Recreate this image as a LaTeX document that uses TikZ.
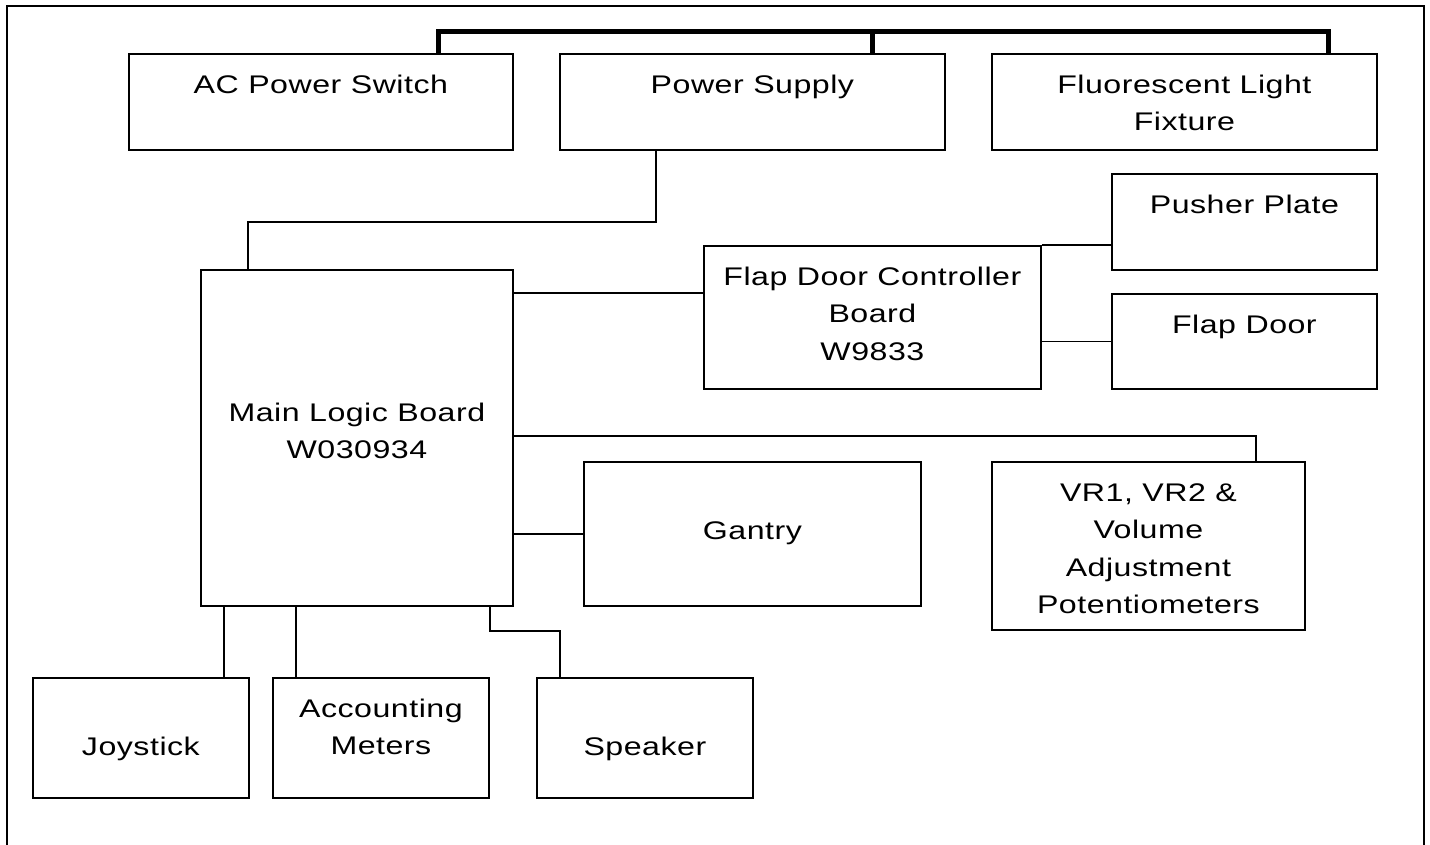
\documentclass[tikz,border=0pt]{standalone}
\usepackage{fontspec}
\setmainfont{Liberation Sans}[FakeStretch=1.26, LetterSpace=2]
\newcommand{\txtlines}[1]{\parbox[t]{380pt}{\centering #1}}
\begin{document}
\begin{tikzpicture}[x=1pt,y=-1pt,
  box/.style={draw=black, line width=1.8pt, inner sep=0pt, anchor=north west, fill=white},
  txt/.style={anchor=base, inner sep=0pt, font=\fontsize{25.5}{37.5}\selectfont},
  wire/.style={draw=black, line width=1.8pt, line join=miter},
  bus/.style={draw=black, line width=5pt, line join=miter},
  frame/.style={draw=black, line width=2pt}]
\useasboundingbox (0,0) rectangle (1430,844);
\fill[white] (0,0) rectangle (1430,844);
\draw[frame] (7,846) -- (7,6) -- (1424,6) -- (1424,846);

% boxes
\node[box, minimum width=384pt, minimum height=96pt] (ac) at (128,53) {};
\node[box, minimum width=385pt, minimum height=96pt] (ps) at (559,53) {};
\node[box, minimum width=385pt, minimum height=96pt] (fl) at (991,53) {};
\node[box, minimum width=265pt, minimum height=96pt] (pp) at (1111,173) {};
\node[box, minimum width=265pt, minimum height=95pt] (fd) at (1111,293) {};
\node[box, minimum width=337pt, minimum height=143pt] (fdc) at (703,245) {};
\node[box, minimum width=312pt, minimum height=336pt] (mlb) at (200,269) {};
\node[box, minimum width=337pt, minimum height=144pt] (gan) at (583,461) {};
\node[box, minimum width=313pt, minimum height=168pt] (vr) at (991,461) {};
\node[box, minimum width=216pt, minimum height=120pt] (joy) at (32,677) {};
\node[box, minimum width=216pt, minimum height=120pt] (acc) at (272,677) {};
\node[box, minimum width=216pt, minimum height=120pt] (spk) at (536,677) {};

% texts
\node[txt] (acT) at ([yshift=-40pt]ac.north) {\txtlines{AC Power Switch}};
\node[txt] (psT) at ([yshift=-40pt]ps.north) {\txtlines{Power Supply}};
\node[txt] (flT) at ([yshift=-40pt]fl.north) {\txtlines{Fluorescent Light\\Fixture}};
\node[txt] (ppT) at ([yshift=-40pt]pp.north) {\txtlines{Pusher Plate}};
\node[txt] (fdT) at ([yshift=-40pt]fd.north) {\txtlines{Flap Door}};
\node[txt] (fdcT) at ([yshift=-40pt]fdc.north) {\txtlines{Flap Door Controller\\Board\\W9833}};
\node[txt] (mlbT) at ([yshift=-152pt]mlb.north) {\txtlines{Main Logic Board\\W030934}};
\node[txt] (ganT) at ([yshift=-78pt]gan.north) {\txtlines{Gantry}};
\node[txt] (vrT) at ([yshift=-40pt]vr.north) {\txtlines{VR1, VR2 \&\\Volume\\Adjustment\\Potentiometers}};
\node[txt] (joyT) at ([yshift=-78pt]joy.north) {\txtlines{Joystick}};
\node[txt] (accT) at ([yshift=-40pt]acc.north) {\txtlines{Accounting\\Meters}};
\node[txt] (spkT) at ([yshift=-78pt]spk.north) {\txtlines{Speaker}};

% power bus
\draw[bus] ([xshift=310pt]ac.north west) -- ++(0,-22) -| ([xshift=337pt]fl.north west);
\draw[bus] ([xshift=313pt]ps.north west) -- ++(0,-22);

% connectors
\coordinate (psO) at ([xshift=97pt]ps.south west);
\coordinate (mlbI) at ([xshift=48pt]mlb.north west);
\draw[wire] (psO) -- ++(0,71) -| (mlbI);
\coordinate (m1) at ([yshift=-24pt]mlb.north east);
\draw[wire] (m1) -- (m1 -| fdc.west);
\draw[wire] (fdc.north east) -- (fdc.north east -| pp.west);
\draw[wire] (fd.west) -- (fd.west -| fdc.east);
\coordinate (m2) at ([yshift=-167pt]mlb.north east);
\draw[wire] (m2) -| ([xshift=265pt]vr.north west);
\draw[wire] (gan.west) -- (gan.west -| mlb.east);
\coordinate (j1) at ([xshift=24pt]mlb.south west);
\draw[wire] (j1) -- (j1 |- joy.north);
\coordinate (j2) at ([xshift=96pt]mlb.south west);
\draw[wire] (j2) -- (j2 |- acc.north);
\coordinate (s1) at ([xshift=-24pt]mlb.south east);
\draw[wire] (s1) -- ++(0,24) -| ([xshift=24pt]spk.north west);
\end{tikzpicture}
\end{document}
